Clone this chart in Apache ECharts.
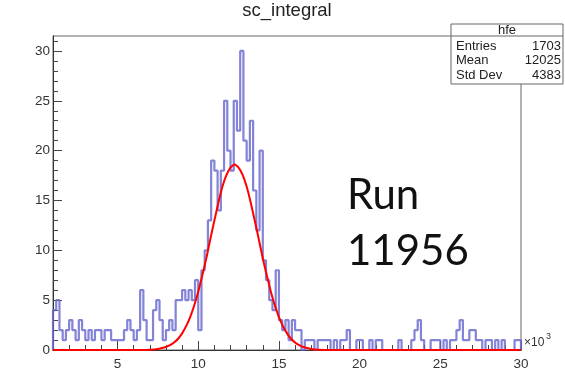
<!DOCTYPE html>
<html>
<head>
<meta charset="utf-8">
<script src="https://cdn.jsdelivr.net/npm/echarts@6/dist/echarts.min.js"></script>
<style>
  html, body { margin: 0; padding: 0; background: #fff; }
  #chart { width: 565px; height: 375px; }
</style>
</head>
<body>
<div id="chart"></div>
<script>
// Histogram binning (x in units of 10^3)
const xMin = 1;
const xMax = 30;
const binWidth = 0.2;

// Bin contents, one per bin from xMin to xMax
const counts = [
  4, 5, 2, 1, 2, 3, 2, 1, 3, 2,
  1, 2, 1, 2, 2, 1, 2, 2, 1, 1,
  1, 1, 2, 3, 2, 1, 2, 6, 3, 1,
  1, 4, 5, 3, 1, 2, 3, 2, 5, 5,
  6, 5, 6, 5, 7, 2, 8, 10, 13, 19,
  18, 14, 18, 25, 20, 18, 25, 22, 30, 21,
  19, 23, 16, 12, 20, 9, 7, 5, 4, 8,
  3, 2, 3, 1, 3, 2, 2, 0, 1, 1,
  1, 0, 1, 1, 1, 1, 0, 1, 0, 1,
  1, 2, 0, 0, 1, 1, 0, 0, 1, 0,
  1, 1, 0, 0, 0, 0, 0, 1, 0, 0,
  0, 1, 2, 3, 1, 0, 0, 1, 1, 1,
  0, 1, 0, 1, 1, 2, 3, 1, 1, 2,
  2, 1, 1, 0, 1, 1, 0, 1, 0, 1,
  0, 0, 0, 1, 1
];

// Gaussian fit curve, sampled
const fitX = [1, 6, 6.5, 7, 7.5, 8, 8.25, 8.5, 8.75, 9, 9.25, 9.5, 9.75, 10, 10.25, 10.5, 10.75, 11, 11.25, 11.5, 11.75, 12, 12.25,
              12.5, 12.75, 13, 13.25, 13.5, 13.75, 14, 14.25, 14.5, 14.75, 15, 15.25, 15.5, 15.75, 16, 16.25, 16.5, 17, 17.5, 18, 30];
const fitY = [0, 0, 0.01, 0.035, 0.11, 0.30, 0.48, 0.75, 1.13, 1.67, 2.39, 3.3, 4.46, 5.85, 7.47, 9.2, 11.13, 13.0, 14.8, 16.4, 17.57, 18.3, 18.6,
              18.3, 17.57, 16.4, 14.8, 13.0, 11.13, 9.2, 7.47, 5.85, 4.46, 3.3, 2.39, 1.67, 1.13, 0.75, 0.48, 0.30, 0.11, 0.035, 0.01, 0];

// Axis ticks
const xMajorTicks = [5, 10, 15, 20, 25, 30];
const xMinorTicks = [2, 3, 4, 6, 7, 8, 9, 11, 12, 13, 14, 16, 17, 18, 19, 21, 22, 23, 24, 26, 27, 28, 29];
const yMajorTicks = [0, 5, 10, 15, 20, 25, 30];
const yMinorTicks = [1, 2, 3, 4, 6, 7, 8, 9, 11, 12, 13, 14, 16, 17, 18, 19, 21, 22, 23, 24, 26, 27, 28, 29, 31];
const yMax = 31.5;

// Statistics box
const statsTitle = 'hfe';
const statsRows = [['Entries', '1703'], ['Mean', '12025'], ['Std Dev', '4383']];

// Outline of the histogram as a step path
const histPath = [[xMin, 0]];
counts.forEach((c, i) => histPath.push([+(xMin + i * binWidth).toFixed(4), c]));
histPath.push([xMax, counts[counts.length - 1]]);
histPath.push([xMax, 0]);

const fitPath = fitX.map((x, i) => [x, fitY[i]]);

const textColor = '#333';
const font = 'Liberation Sans, Arial, sans-serif';

const chart = echarts.init(document.getElementById('chart'), null, { renderer: 'canvas' });

const baseX = {
  type: 'value', min: xMin, max: xMax, position: 'bottom', offset: 0,
  splitLine: { show: false },
  axisLine: { show: true, onZero: false, lineStyle: { color: '#333', width: 1 } }
};
const baseY = {
  type: 'value', min: 0, max: yMax, position: 'left', offset: 0,
  splitLine: { show: false },
  axisLine: { show: true, onZero: false, lineStyle: { color: '#333', width: 1 } }
};

chart.setOption({
  animation: false,
  backgroundColor: '#fff',
  grid: { left: 53, right: 44, top: 36, bottom: 25, show: true, borderColor: '#666', borderWidth: 1 },
  xAxis: [
    Object.assign({}, baseX, {
      axisTick: { show: true, inside: true, length: 9, customValues: xMajorTicks, lineStyle: { color: '#444' } },
      axisLabel: { show: true, customValues: xMajorTicks, margin: 7, color: textColor, fontSize: 13.5, fontFamily: font }
    }),
    Object.assign({}, baseX, {
      axisTick: { show: true, inside: true, length: 5, customValues: xMinorTicks, lineStyle: { color: '#444' } },
      axisLabel: { show: false }
    })
  ],
  yAxis: [
    Object.assign({}, baseY, {
      axisTick: { show: true, inside: true, length: 9, customValues: yMajorTicks, lineStyle: { color: '#444' } },
      axisLabel: { show: true, customValues: yMajorTicks, margin: 3, color: textColor, fontSize: 13.5, fontFamily: font }
    }),
    Object.assign({}, baseY, {
      axisTick: { show: true, inside: true, length: 5, customValues: yMinorTicks, lineStyle: { color: '#444' } },
      axisLabel: { show: false }
    })
  ],
  series: [
    {
      type: 'line', xAxisIndex: 0, yAxisIndex: 0,
      data: histPath, step: 'end', symbol: 'none', clip: true,
      lineStyle: { color: 'rgba(100, 100, 205, 0.8)', width: 2.2 },
      z: 2
    },
    {
      type: 'line', xAxisIndex: 0, yAxisIndex: 0,
      data: fitPath, smooth: 0.2, symbol: 'none', clip: true,
      lineStyle: { color: '#ff0000', width: 2 },
      z: 3
    }
  ],
  graphic: [
    { type: 'text', x: 287, y: 11, z: 10,
      style: { text: 'sc_integral', fill: '#222', font: '18.5px ' + font, align: 'center', verticalAlign: 'middle' } },
    { type: 'text', x: 524, y: 343, z: 10,
      style: { text: '×10', fill: textColor, font: '12px ' + font, align: 'left', verticalAlign: 'middle' } },
    { type: 'text', x: 546, y: 337, z: 10,
      style: { text: '3', fill: textColor, font: '9px ' + font, align: 'left', verticalAlign: 'middle' } },
    { type: 'rect', z: 10, shape: { x: 451, y: 24, width: 112, height: 60 },
      style: { fill: '#fff', stroke: '#666', lineWidth: 1 } },
    { type: 'line', z: 11, shape: { x1: 451, y1: 36, x2: 563, y2: 36 },
      style: { stroke: '#666', lineWidth: 1 } },
    { type: 'text', x: 507, y: 30, z: 11,
      style: { text: statsTitle, fill: '#222', font: '13px ' + font, align: 'center', verticalAlign: 'middle' } }
  ].concat(statsRows.flatMap((r, i) => [
    { type: 'text', x: 456, y: 46 + i * 14.5, z: 11,
      style: { text: r[0], fill: '#222', font: '13px ' + font, align: 'left', verticalAlign: 'middle' } },
    { type: 'text', x: 561, y: 46 + i * 14.5, z: 11,
      style: { text: r[1], fill: '#222', font: '13px ' + font, align: 'right', verticalAlign: 'middle' } }
  ])).concat([
    { type: 'text', x: 347, y: 195, z: 10,
      style: { text: 'Run', fill: '#111', font: '42px Lato, "Open Sans", sans-serif', align: 'left', verticalAlign: 'middle' } },
    { type: 'text', x: 347, y: 251, z: 10,
      style: { text: '11956', fill: '#111', font: '42px Lato, "Open Sans", sans-serif', align: 'left', verticalAlign: 'middle' } }
  ])
});
</script>
</body>
</html>
